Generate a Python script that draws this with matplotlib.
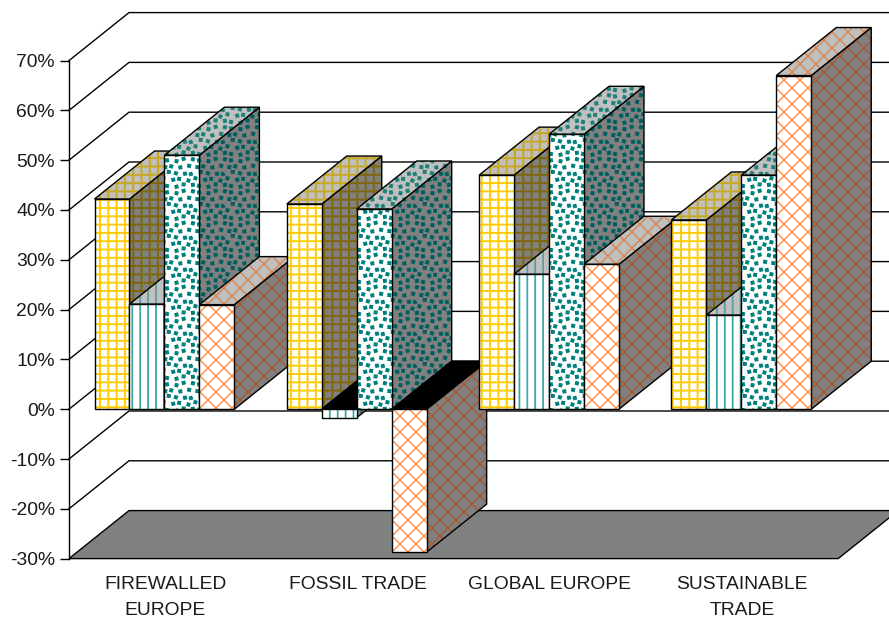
import itertools

import matplotlib
matplotlib.use("Agg")
import matplotlib.colors as mcolors
import matplotlib.pyplot as plt
import numpy as np
from matplotlib.patches import Polygon

# -----------------------------
# Data
# -----------------------------
CATEGORIES = ["FIREWALLED\nEUROPE", "FOSSIL TRADE", "GLOBAL EUROPE", "SUSTAINABLE\nTRADE"]
SERIES_A = [42.2, 41.2, 47.0, 38.0]
SERIES_B = [21.1, -1.7, 27.1, 18.9]
SERIES_C = [51.0, 40.2, 55.2, 47.0]
SERIES_D = [21.0, -28.7, 29.1, 67.0]
Y_TICKS = [-30, -20, -10, 0, 10, 20, 30, 40, 50, 60, 70]

# -----------------------------
# Styles: texture + colours per face (front, side, top)
# -----------------------------
STYLES = [
    {"texture": "grid", "front": "#FFCC00", "side": "#7F6608", "top": "#C8A820"},
    {"texture": "stripes", "front": "#38A8A8", "side": "#1E6464", "top": "#5F9C9C"},
    {"texture": "dots", "front": "#00807C", "side": "#005F5C", "top": "#1F8078"},
    {"texture": "diamonds", "front": "#FF8C40", "side": "#A8582A", "top": "#D8854A"},
]
WALL_GREY = "#808080"
TOP_GREY = "#C0C0C0"
EDGE_LW = 1.0
FONT_SIZE = 13.9
WIDTH_PX, HEIGHT_PX = 889, 621
GROUP_PX = 192.3

# Oblique projection offsets, in data units
DEPTH_X = 60 / GROUP_PX
DEPTH_Y = 9.64
BAR_W = 1 / 5.5
GROUP_PAD = 25.5 / GROUP_PX

# Offsets that break up the regular lattice of the dot texture
DOT_JITTER = [0.8, -1.1, 0.4, -0.5, 1.2, -0.9, 0.2, 1.0, -1.3, 0.6, -0.2, 0.9, -0.7, 1.1, -1.0, 0.3]
DOT_SPIN = [0.3, -0.2, 0.25, -0.3, 0.1]

plt.rcParams["font.family"] = ["Liberation Sans", "DejaVu Sans"]

X_PX, Y_PX = np.meshgrid(np.arange(WIDTH_PX) + 0.5, np.arange(HEIGHT_PX) + 0.5)


def line_mask(coord, period, width):
    """Soft-edged repeating lines along a pixel coordinate."""
    dist = np.abs((coord + period / 2) % period - period / 2)
    return np.clip(width / 2 + 0.5 - dist, 0, 1)


def dots_mask():
    """Staggered squares on a 32 px tile, supersampled and repeated over the figure."""
    ss = 4
    yy, xx = np.mgrid[0:32 * ss, 0:32 * ss] / ss
    hit = np.zeros_like(xx, dtype=bool)
    k = 0
    for row in range(5):
        for col in range(4):
            cx = col * 8 + (row % 2) * 4 + DOT_JITTER[k % 16]
            cy = row * 6.4 + DOT_JITTER[(k + 5) % 16]
            a = DOT_SPIN[k % 5]
            dx = (xx - cx + 16) % 32 - 16
            dy = (yy - cy + 16) % 32 - 16
            u = dx * np.cos(a) + dy * np.sin(a)
            v = -dx * np.sin(a) + dy * np.cos(a)
            hit |= np.maximum(np.abs(u), np.abs(v)) < 2.0
            k += 1
    tile = hit.reshape(32, ss, 32, ss).mean(axis=(1, 3))
    reps = (HEIGHT_PX // 32 + 1, WIDTH_PX // 32 + 1)
    return np.tile(tile, reps)[:HEIGHT_PX, :WIDTH_PX]


MASKS = {
    "grid": np.maximum(line_mask(X_PX - 100, 8.3, 2.0), line_mask(Y_PX - 208, 8.3, 2.0)),
    "stripes": line_mask(X_PX - 132.3, 7.9, 1.8),
    "dots": dots_mask(),
    "diamonds": np.maximum(line_mask(X_PX + Y_PX, 16, 2.0), line_mask(X_PX - Y_PX, 16, 2.0)),
}

layer = itertools.count()


def fig_extent(ax):
    """Whole figure expressed in data coordinates."""
    inv = ax.transData.inverted()
    (x0, y0), (x1, y1) = inv.transform([(0, 0), (WIDTH_PX, HEIGHT_PX)])
    return (x0, x1, y0, y1)


def face(ax, pts, fill, texture=None, color=None):
    """Filled polygon, optional texture clipped to it, black outline on top."""
    z = 1 + next(layer) * 0.01
    poly = Polygon(pts, closed=True, facecolor=fill, edgecolor="none", clip_on=False, zorder=z)
    ax.add_patch(poly)
    if texture:
        rgba = np.zeros((HEIGHT_PX, WIDTH_PX, 4))
        rgba[..., :3] = mcolors.to_rgb(color)
        rgba[..., 3] = MASKS[texture]
        im = ax.imshow(rgba, extent=fig_extent(ax), origin="upper", aspect="auto",
                       interpolation="nearest", zorder=z + 0.002)
        im.set_clip_box(ax.figure.bbox)
        im.set_clip_path(poly)
    ax.add_patch(Polygon(pts, closed=True, fill=False, edgecolor="black",
                         linewidth=EDGE_LW, clip_on=False, zorder=z + 0.004))


def draw_bar(ax, x0, value, style):
    x1 = x0 + BAR_W
    dx, dy = DEPTH_X, DEPTH_Y
    top = max(value, 0)
    low = min(value, 0)

    # side face
    face(ax, [(x1, low), (x1, top), (x1 + dx, top + dy), (x1 + dx, low + dy)],
         WALL_GREY, style["texture"], style["side"])
    # top face, negative bars show a black cap at zero
    cap = [(x0, top), (x1, top), (x1 + dx, top + dy), (x0 + dx, top + dy)]
    if value < 0:
        face(ax, cap, "black")
    else:
        face(ax, cap, TOP_GREY, style["texture"], style["top"])
    # front face
    face(ax, [(x0, low), (x1, low), (x1, top), (x0, top)],
         "white", style["texture"], style["front"])


fig = plt.figure(figsize=(WIDTH_PX / 100, HEIGHT_PX / 100), dpi=100, facecolor="white")
ax = fig.add_axes([69 / WIDTH_PX, (HEIGHT_PX - 558.6) / HEIGHT_PX,
                   4 * GROUP_PX / WIDTH_PX, 498 / HEIGHT_PX])
ax.set_xlim(0, len(CATEGORIES))
ax.set_ylim(Y_TICKS[0], Y_TICKS[-1])
ax.autoscale(False)
ax.patch.set_visible(False)

for side in ["top", "right", "bottom"]:
    ax.spines[side].set_visible(False)
ax.spines["left"].set_linewidth(EDGE_LW)

ax.set_yticks(Y_TICKS)
ax.set_yticklabels([f"{v}%" for v in Y_TICKS], fontsize=FONT_SIZE, color="#1a1a1a")
ax.tick_params(axis="y", length=6.5, width=EDGE_LW, pad=3.5)
ax.set_xticks([i + 0.5 for i in range(len(CATEGORIES))])
ax.set_xticklabels(CATEGORIES, fontsize=FONT_SIZE, color="#1a1a1a", linespacing=1.7)
ax.tick_params(axis="x", length=0, pad=12.5)

# Gridlines run up the left wall and across the back wall
n = len(CATEGORIES)
for v in Y_TICKS[1:]:
    ax.plot([0, DEPTH_X, n + DEPTH_X], [v, v + DEPTH_Y, v + DEPTH_Y],
            color="black", lw=EDGE_LW, clip_on=False, zorder=0.5)

# Floor at the axis minimum
floor_y = Y_TICKS[0]
face(ax, [(0, floor_y), (n, floor_y), (n + DEPTH_X, floor_y + DEPTH_Y), (DEPTH_X, floor_y + DEPTH_Y)],
     WALL_GREY)

# Painter's order, left to right
all_series = [SERIES_A, SERIES_B, SERIES_C, SERIES_D]
for g in range(n):
    for s, values in enumerate(all_series):
        draw_bar(ax, g + GROUP_PAD + s * BAR_W, values[g], STYLES[s])

fig.savefig("out.png", dpi=100)
